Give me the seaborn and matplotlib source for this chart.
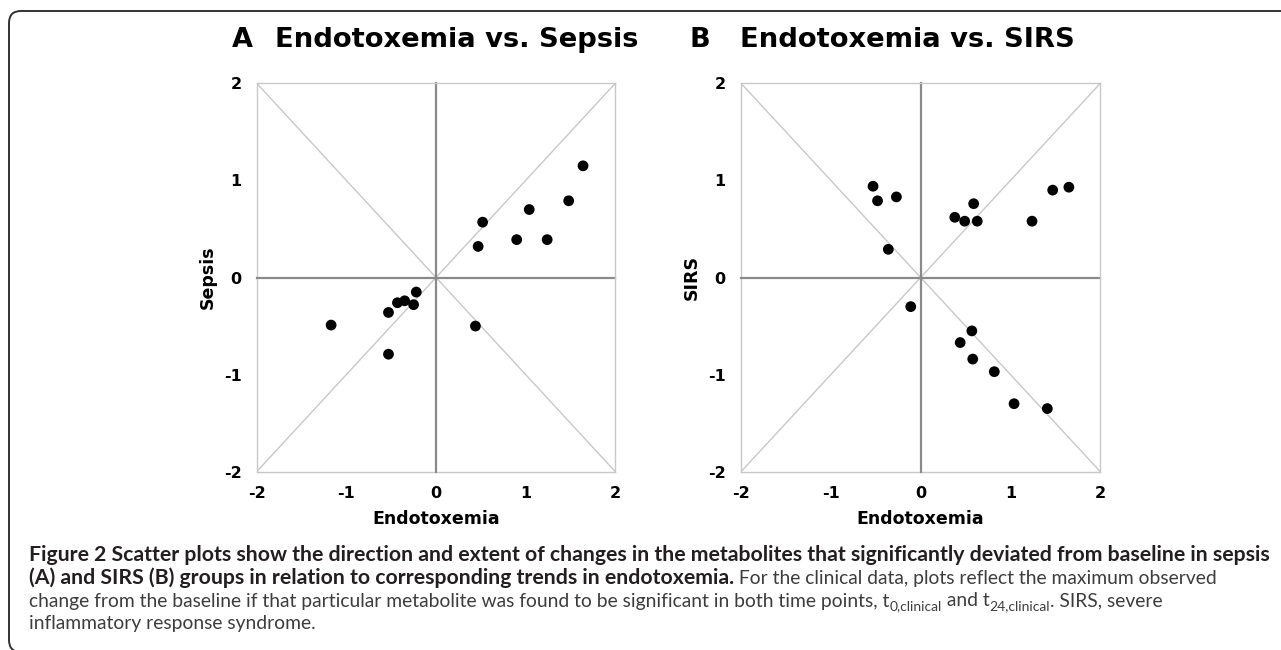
import numpy as np
import pandas as pd
import matplotlib
matplotlib.use("Agg")
import matplotlib.pyplot as plt
import seaborn as sns
from matplotlib.patches import FancyBboxPatch
from matplotlib.transforms import IdentityTransform

# ---------------- data ----------------
ticks = [-2, -1, 0, 1, 2]
lim = [-2, 2]

sepsis_endo = [1.64, 1.48, 1.04, 0.52, 0.47, 0.90, 1.24, -0.22, -0.43, -0.35, -0.25, -0.53, -1.17, 0.44, -0.53]
sepsis_val = [1.15, 0.79, 0.70, 0.57, 0.32, 0.39, 0.39, -0.15, -0.26, -0.24, -0.28, -0.36, -0.49, -0.50, -0.79]

sirs_endo = [-0.53, -0.48, -0.27, -0.36, 0.38, 0.49, 0.59, 0.63, 1.24, 1.47, 1.65,
             -0.11, 0.57, 0.44, 0.58, 0.82, 1.04, 1.41]
sirs_val = [0.94, 0.79, 0.83, 0.29, 0.62, 0.58, 0.76, 0.58, 0.58, 0.90, 0.93,
            -0.30, -0.55, -0.67, -0.84, -0.97, -1.30, -1.35]

panel_letters = ["A", "B"]
panel_titles = ["Endotoxemia vs. Sepsis", "Endotoxemia vs. SIRS"]
x_label = "Endotoxemia"
y_labels = ["Sepsis", "SIRS"]

caption_line1 = "Figure 2 Scatter plots show the direction and extent of changes in the metabolites that significantly deviated from baseline in sepsis"
caption_line2_bold = "(A) and SIRS (B) groups in relation to corresponding trends in endotoxemia."
caption_line2_reg = " For the clinical data, plots reflect the maximum observed"
caption_line3 = ["change from the baseline if that particular metabolite was found to be significant in both time points, t",
                 "0,clinical", " and t", "24,clinical", ". SIRS, severe"]
caption_line4 = "inflammatory response syndrome."

df_a = pd.DataFrame({"Endotoxemia": sepsis_endo, "Value": sepsis_val})
df_b = pd.DataFrame({"Endotoxemia": sirs_endo, "Value": sirs_val})

# ---------------- style ----------------
sns.set_style("white")
plt.rcParams["font.family"] = ["DejaVu Sans"]
plt.rcParams["axes.unicode_minus"] = False

W, H = 1281, 650
fig = plt.figure(figsize=(W / 100, H / 100), dpi=100)

box_col = "#c8c8c8"
axis_col = "#8a8a8a"

positions = [[256.7 / W, 1 - 471.7 / H, 358.6 / W, 388.4 / H],
             [741.0 / W, 1 - 471.7 / H, 359.3 / W, 388.4 / H]]
ylabelpads = [5, 5]

for i, (df, pos) in enumerate(zip([df_a, df_b], positions)):
    ax = fig.add_axes(pos)
    ax.set_xlim(lim)
    ax.set_ylim(lim)
    # diagonals
    ax.plot(lim, lim, color=box_col, lw=1.0, zorder=1)
    ax.plot(lim, lim[::-1], color=box_col, lw=1.0, zorder=1)
    sns.scatterplot(data=df, x="Endotoxemia", y="Value", ax=ax, color="black",
                    s=60, linewidth=0, edgecolor="none", zorder=5, legend=False)
    # zero-axes
    ax.spines["left"].set_position(("data", 0))
    ax.spines["bottom"].set_position(("data", 0))
    for s in ["left", "bottom"]:
        ax.spines[s].set_color(axis_col)
        ax.spines[s].set_linewidth(1.6)
        ax.spines[s].set_zorder(2)
    for s in ["top", "right"]:
        ax.spines[s].set_color(box_col)
        ax.spines[s].set_linewidth(1.0)
    ax.set_xticks(ticks)
    ax.set_yticks(ticks)
    ax.tick_params(direction="inout", length=10, width=1.4, color=axis_col,
                   labelleft=False, labelbottom=False)
    ax.set_xlabel("")
    ax.set_ylabel("")

    # box edges with tick labels
    secx = ax.secondary_xaxis("bottom")
    secx.set_xticks(ticks)
    secx.spines["bottom"].set_color(box_col)
    secx.spines["bottom"].set_linewidth(1.0)
    secx.tick_params(length=0, pad=10, labelsize=11.5, labelcolor="black")
    for t in secx.get_xticklabels():
        t.set_fontweight("bold")
    secx.set_xlabel(x_label, fontsize=12.5, fontweight="bold", labelpad=7, color="black")

    secy = ax.secondary_yaxis("left")
    secy.set_yticks(ticks)
    secy.spines["left"].set_color(box_col)
    secy.spines["left"].set_linewidth(1.0)
    secy.tick_params(length=0, pad=11, labelsize=11.5, labelcolor="black")
    for t in secy.get_yticklabels():
        t.set_fontweight("bold")
    secy.set_ylabel(y_labels[i], fontsize=12.5, fontweight="bold", labelpad=ylabelpads[i], color="black")

# titles
title_letter_x = [232, 690]
title_text_x = [275, 740]
for i in range(2):
    fig.text(title_letter_x[i] / W, 1 - 40 / H, panel_letters[i], fontsize=19.5,
             fontweight="bold", ha="left", va="center", color="black")
    fig.text(title_text_x[i] / W, 1 - 40 / H, panel_titles[i], fontsize=19.7,
             fontweight="bold", ha="left", va="center", color="black")

# border
border = FancyBboxPatch((9, -2), 1400, H - 11 + 2, boxstyle="round,pad=0,rounding_size=12",
                        transform=IdentityTransform(), fill=False, edgecolor="#333333",
                        linewidth=1.4)
fig.add_artist(border)

# caption
cap_font = ["Lato", "DejaVu Sans"]
renderer = fig.canvas.get_renderer()

def measure(text, **kw):
    t = fig.text(0, 0, text, **kw)
    w = t.get_window_extent(renderer).width
    t.remove()
    return w

bold_kw = dict(family=cap_font, fontweight="bold", color="#231f20")
reg_kw = dict(family=cap_font, fontweight="normal", color="#3d3d3d")

w12 = measure(caption_line1, fontsize=12, **bold_kw)
fs_bold = 12 * 1231 / w12
w12r = measure(caption_line2_reg, fontsize=12, **reg_kw)
fs_reg = 12 * 482 / w12r
sub_scale = 0.72

x0 = 29
baselines = [561, 584, 606.5, 629]

def chain(segments, y_px):
    x = x0
    for text, kw, fs, dy in segments:
        t = fig.text(x / W, 1 - (y_px + dy) / H, text, fontsize=fs, ha="left",
                     va="baseline", **kw)
        x = t.get_window_extent(renderer).x1

chain([(caption_line1, bold_kw, fs_bold, 0)], baselines[0])
chain([(caption_line2_bold, bold_kw, fs_bold, 0),
       (caption_line2_reg, reg_kw, fs_reg, 0)], baselines[1])
chain([(caption_line3[0], reg_kw, fs_reg, 0),
       (caption_line3[1], reg_kw, fs_reg * sub_scale, 3.5),
       (caption_line3[2], reg_kw, fs_reg, 0),
       (caption_line3[3], reg_kw, fs_reg * sub_scale, 3.5),
       (caption_line3[4], reg_kw, fs_reg, 0)], baselines[2])
chain([(caption_line4, reg_kw, fs_reg, 0)], baselines[3])

fig.savefig("out.png", dpi=100)
